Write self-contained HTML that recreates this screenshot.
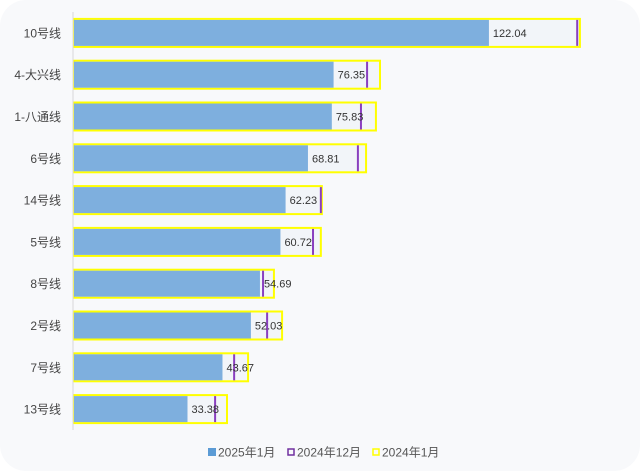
<!DOCTYPE html>
<html><head><meta charset="utf-8"><style>
html,body{margin:0;padding:0;background:#fff;}
#card{position:absolute;left:0;top:0;width:640px;height:471px;background:#f8f9fb;border-radius:26px;overflow:hidden;}
svg text{font-family:"Liberation Sans","Noto Sans CJK SC",sans-serif;}
</style></head><body>
<div id="card">
<svg id="chart" width="640" height="471"></svg>
</div>
<script>
const categories=["10号线","4-大兴线","1-八通线","6号线","14号线","5号线","8号线","2号线","7号线","13号线"];
const values2025=[122.04,76.35,75.83,68.81,62.23,60.72,54.69,52.03,43.67,33.38];
const valuesDec2024=[148,86.2,84.4,83.5,72.6,70.3,55.6,56.8,47.1,41.5];
const valuesJan2024=[148.8,90,88.8,85.9,72.9,72.6,58.8,61.2,51.2,45];
const legendLabels=["2025年1月","2024年12月","2024年1月"];

const NS="http://www.w3.org/2000/svg";
const svg=document.getElementById('chart');
const x0=74, k=3.4, rowTop=12, rowStep=41.8;
const xs=v=>x0+v*k;
const yc=i=>rowTop+rowStep*i+rowStep/2;
function el(t,a){const e=document.createElementNS(NS,t);for(const n in a)e.setAttribute(n,a[n]);svg.appendChild(e);return e;}

categories.forEach((c,i)=>{
  const y=yc(i);
  const bg=el('rect',{x:x0,y:y-14,width:xs(valuesJan2024[i])-x0,height:28,fill:'#f2f5f9',stroke:'#ffff00','stroke-width':2});
  
  
  const b=el('rect',{x:x0,y:y-13,width:xs(values2025[i])-x0,height:26,fill:'#7eafde'});
  
  
  const m=el('line',{x1:xs(valuesDec2024[i]),x2:xs(valuesDec2024[i]),y1:y-13,y2:y+13,stroke:'#8a3fbf','stroke-width':2});
  
  
  const v=el('text',{x:xs(values2025[i])+4,y:y+4,'font-size':11,fill:'#333'});
  v.textContent=values2025[i].toFixed(2);
  
  
  const t=el('text',{x:61,y:y+4.5,'font-size':12,fill:'#444','text-anchor':'end'});
  t.textContent=c;
  
  
});
const ax=el('line',{x1:73,x2:73,y1:12,y2:430,stroke:'#d8d8d8','stroke-width':1});



const lx=[208,287,372];
legendLabels.forEach((l,i)=>{
  const g=document.createElementNS(NS,'g');svg.appendChild(g);
  
  
  const r=document.createElementNS(NS,'rect');
  if(i===0){r.setAttribute('x',lx[i]);r.setAttribute('y',448);r.setAttribute('width',8);r.setAttribute('height',8);r.setAttribute('fill','#5b9bd5');}
  else{r.setAttribute('x',lx[i]+1);r.setAttribute('y',449);r.setAttribute('width',6);r.setAttribute('height',6);r.setAttribute('fill','none');r.setAttribute('stroke',i===1?'#7030a0':'#ffff00');r.setAttribute('stroke-width',1.5);}
  g.appendChild(r);
  const t=document.createElementNS(NS,'text');
  t.setAttribute('x',lx[i]+10);t.setAttribute('y',456.5);t.setAttribute('font-size',12);t.setAttribute('fill','#555');
  t.textContent=l;g.appendChild(t);
});
</script>
</body></html>
